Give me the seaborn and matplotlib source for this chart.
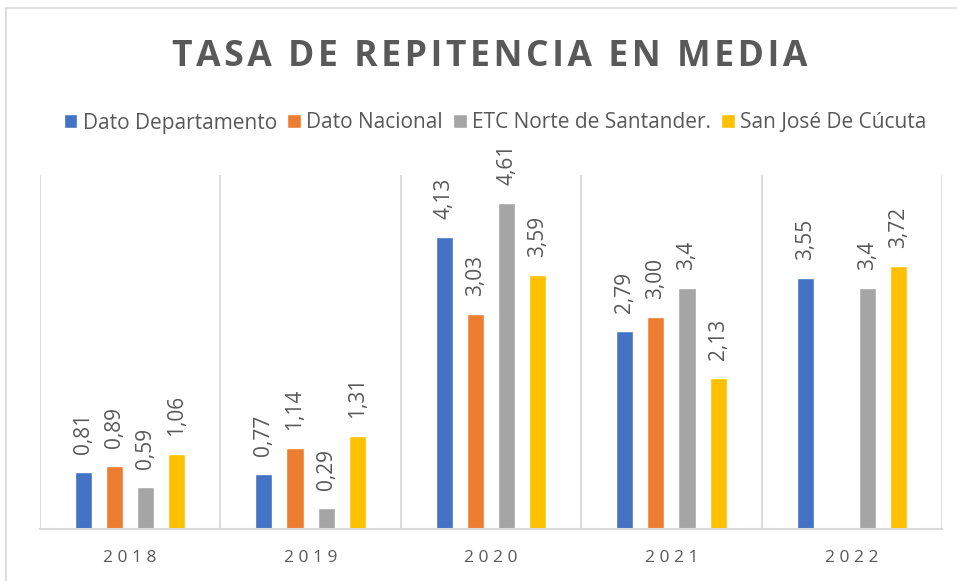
import numpy as np
import pandas as pd
import matplotlib
matplotlib.use("Agg")
import matplotlib.pyplot as plt
import seaborn as sns
from matplotlib.patches import Rectangle

years = ["2018", "2019", "2020", "2021", "2022"]
series = ["Dato Departamento", "Dato Nacional", "ETC Norte de Santander.", "San José De Cúcuta"]
dato_departamento = [0.81, 0.77, 4.13, 2.79, 3.55]
dato_nacional = [0.89, 1.14, 3.03, 3.00, np.nan]
etc_norte = [0.59, 0.29, 4.61, 3.4, 3.4]
san_jose = [1.06, 1.31, 3.59, 2.13, 3.72]
labels_departamento = ["0,81", "0,77", "4,13", "2,79", "3,55"]
labels_nacional = ["0,89", "1,14", "3,03", "3,00", ""]
labels_etc = ["0,59", "0,29", "4,61", "3,4", "3,4"]
labels_san_jose = ["1,06", "1,31", "3,59", "2,13", "3,72"]
colors = ["#4472C4", "#ED7D31", "#A5A5A5", "#FFC000"]

all_vals = [dato_departamento, dato_nacional, etc_norte, san_jose]
all_labels = [labels_departamento, labels_nacional, labels_etc, labels_san_jose]

rows = []
for s, vals in zip(series, all_vals):
    for y, v in zip(years, vals):
        rows.append({"Año": y, "Serie": s, "Valor": v})
df = pd.DataFrame(rows)

sns.set_theme(style="white")
plt.rcParams["font.family"] = ["Open Sans", "DejaVu Sans"]
txt = "#595959"

fig = plt.figure(figsize=(9.57, 5.81), dpi=100)
ax = fig.add_axes([40/957, 52/581, 902/957, 354/581])

sns.barplot(data=df, x="Año", y="Valor", hue="Serie", hue_order=series, order=years,
            palette=colors, width=0.69, gap=0.45, errorbar=None, ax=ax, legend=True,
            saturation=1)

ax.set_ylim(0, 5)
ax.set_xlim(-0.5, 4.5)
for xv in np.arange(-0.5, 5.0, 1.0):
    ax.axvline(xv, color="#D9D9D9", lw=1.3, zorder=0)
for side in ["top", "left", "right"]:
    ax.spines[side].set_visible(False)
ax.spines["bottom"].set_color("#D9D9D9")
ax.spines["bottom"].set_linewidth(1.5)
ax.set_yticks([])
ax.set_xlabel("")
ax.set_ylabel("")
ax.set_xticks(range(len(years)))
ax.set_xticklabels([" ".join(y) for y in years], color=txt, fontsize=12.5)
ax.tick_params(axis="x", length=0, pad=15)

for cont, vals, labs in zip(ax.containers, all_vals, all_labels):
    if len(cont) == len(vals):
        use = labs
    else:
        use = [l for v, l in zip(vals, labs) if not np.isnan(v)]
    ax.bar_label(cont, labels=use, rotation=90, padding=13, color=txt, fontsize=15)

leg = ax.get_legend()
handles, lbls = ax.get_legend_handles_labels()
leg.remove()
fig.legend(handles, lbls, loc="center", bbox_to_anchor=(495/957, 1 - 123/581), ncol=4,
           frameon=False, fontsize=15, handlelength=0.65, handleheight=0.65,
           handletextpad=0.25, columnspacing=0.5, labelcolor=txt)

title = "TASA DE REPITENCIA EN MEDIA"
spaced = "\u200a".join(title)
fig.text(490/957, 1 - 57/581, spaced, ha="center", va="center",
         fontsize=25.6, fontweight="bold", color=txt)

fig.patches.append(Rectangle((6/957, -0.01), 1.0, 1 - 8/581 + 0.01, transform=fig.transFigure,
                             fill=False, edgecolor="#D9D9D9", lw=1.2))

fig.savefig("out.png", dpi=100)
